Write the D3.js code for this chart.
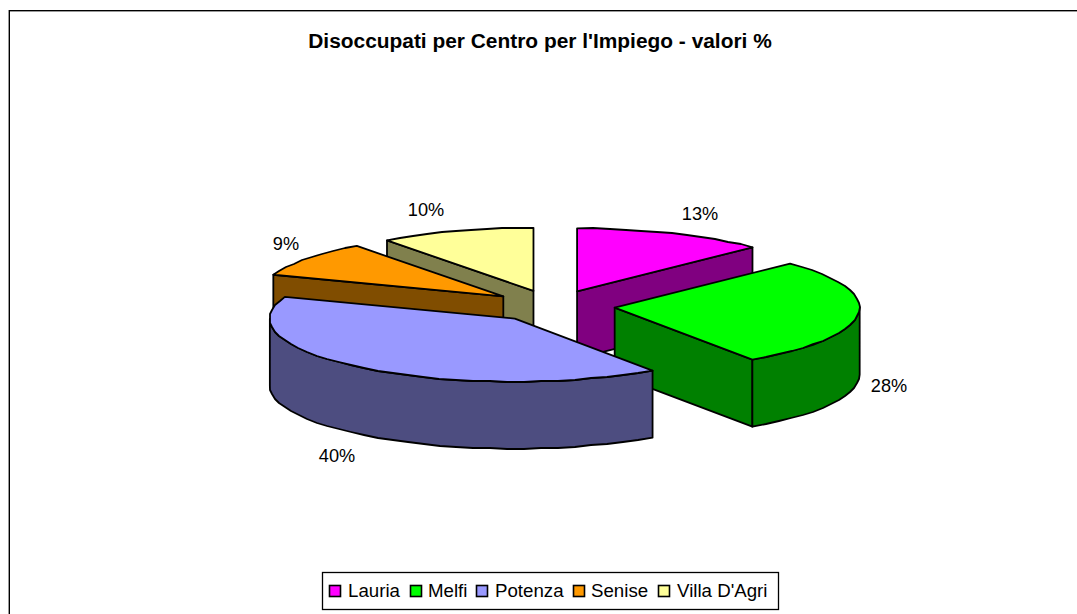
<!DOCTYPE html>
<html><head><meta charset="utf-8">
<style>html,body{margin:0;padding:0;background:#fff;overflow:hidden}svg{display:block}text{font-family:"Liberation Sans",Arial,sans-serif;fill:#000}</style>
<script src="https://cdn.jsdelivr.net/npm/d3@7"></script></head><body>
<svg id="c" width="1077" height="614"></svg>
<script>
const title = "Disoccupati per Centro per l'Impiego - valori %";
const categories = ["Lauria","Melfi","Potenza","Senise","Villa D'Agri"];
const percentages = [12.7,27.8,40.1,9.2,10.2];
const topColors = ["#FF00FF","#00FF00","#9999FF","#FF9900","#FFFF99"];
const sideColors = ["#800080","#008000","#4D4D80","#804D00","#80804D"];
const labelAnchors = [[700,220],[889,392],[337,462],[286,250],[426,216]];
const paintOrder = [4,0,3,1,2];

const cx=553, cy=306, rx=245, ry=63, depth=67, explode=0.253;
const svg=d3.select("#c");
// chart frame: only top and left edges fall inside the picture
svg.append("line").attr("x1",8).attr("x2",1077).attr("y1",11.5).attr("y2",11.5).attr("stroke","#999");
svg.append("line").attr("x1",8.5).attr("x2",8.5).attr("y1",10).attr("y2",614).attr("stroke","#999");
svg.append("line").attr("x1",9).attr("x2",1077).attr("y1",10.5).attr("y2",10.5).attr("stroke","#000");
svg.append("line").attr("x1",9.5).attr("x2",9.5).attr("y1",10).attr("y2",614).attr("stroke","#000");
svg.append("text").attr("x",540).attr("y",48).attr("text-anchor","middle").attr("font-size",20.9).attr("font-weight","bold").text(title);

const arcs=d3.pie().sort(null)(percentages);
const px=d3.scaleLinear().domain([-1,1]).range([-rx,rx]);
const py=d3.scaleLinear().domain([-1,1]).range([ry,-ry]);
function slicePts(a){
  const mid=(a.startAngle+a.endAngle)/2;
  const ax=cx+px(explode*Math.sin(mid)), ay=cy+py(explode*Math.cos(mid));
  const at=t=>[ax+px(Math.sin(t)),ay+py(Math.cos(t))];
  return {ax,ay,at};
}
const line=d3.line();
function arcPts(at,t0,t1){
  const n=Math.max(2,Math.ceil((t1-t0)/0.07));
  return d3.range(n+1).map(i=>{
    const p=at(t0+(t1-t0)*i/n);
    return (i===0||i===n)?p:[Math.round(p[0]),Math.round(p[1])];
  });
}
const strokeW=1.8;
paintOrder.forEach(i=>{
  const a=arcs[i], {ax,ay,at}=slicePts(a), g=svg.append("g");
  const s=a.startAngle,e=a.endAngle;
  const wall=pts=>{
    const down=pts.map(p=>[p[0],p[1]+depth]).reverse();
    g.append("path").attr("d",line(pts.concat(down))+"Z").attr("fill",sideColors[i]).attr("stroke","#000").attr("stroke-width",strokeW).attr("stroke-linejoin","round");
  };
  if(Math.sin(s)<-1e-6) wall([[ax,ay],at(s)]);
  if(Math.sin(e)>1e-6) wall([[ax,ay],at(e)]);
  const f0=Math.max(s,Math.PI/2), f1=Math.min(e,3*Math.PI/2);
  if(f1>f0) wall(arcPts(at,f0,f1));
  g.append("path").attr("d",line([[ax,ay]].concat(arcPts(at,s,e)))+"Z").attr("fill",topColors[i]).attr("stroke","#000").attr("stroke-width",strokeW).attr("stroke-linejoin","round");
});

percentages.forEach((v,i)=>{
  svg.append("text").attr("x",labelAnchors[i][0]).attr("y",labelAnchors[i][1]).attr("text-anchor","middle").attr("font-size",18.2).attr("fill","#111").text(Math.round(v)+"%");
});

// legend
const lx=322.5, ly=572.5, lw=456, lh=37;
svg.append("rect").attr("x",lx).attr("y",ly).attr("width",lw).attr("height",lh).attr("fill","#fff").attr("stroke","#000").attr("stroke-width",1.3);
const itemX=[329,410,476,573,658];
const textX=[348,428,495,591,677];
categories.forEach((c,i)=>{
  svg.append("rect").attr("x",itemX[i]+0.5).attr("y",585.5).attr("width",11).attr("height",11).attr("fill",topColors[i]).attr("stroke","#000").attr("stroke-width",1.6);
  svg.append("text").attr("x",textX[i]).attr("y",596.5).attr("font-size",18.7).text(c);
});
</script></body></html>
